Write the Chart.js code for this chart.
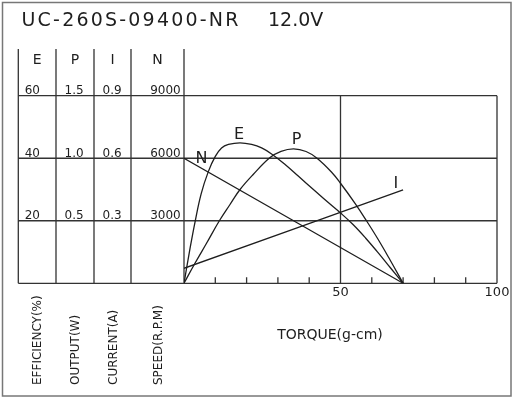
<!DOCTYPE html>
<html><head><meta charset="utf-8">
<script src="https://cdn.jsdelivr.net/npm/chart.js@4.4.0/dist/chart.umd.min.js"></script>
<style>html,body{margin:0;padding:0;background:#fff;}#wrap{width:516px;height:400px;position:relative;}</style>
</head><body><div id="wrap"><canvas id="c" width="516" height="400"></canvas></div>
<script>
// ---- text ----
const modelText = 'UC-260S-09400-NR';
const voltageText = '12.0V';
const headers = ['E', 'P', 'I', 'N'];
const axisNames = ['EFFICIENCY(%)', 'OUTPUT(W)', 'CURRENT(A)', 'SPEED(R.P.M)'];
const xTitle = 'TORQUE(g-cm)';

// ---- data (torque in g-cm) ----
const effTorque = [0, 1.9, 3.6, 5.5, 7.8, 10, 12, 14.2, 17.9, 21.6, 24.8, 28.1, 32.3, 36.5, 41.8, 46, 50, 54, 58, 62, 66, 70];
const efficiency = [0, 11, 20, 28.7, 35.8, 40.6, 43.3, 44.4, 44.9, 44.4, 43.3, 41.3, 38.0, 34.3, 29.6, 25.9, 22.5, 18.8, 14.5, 9.8, 4.9, 0];
const outTorque = [0, 3.5, 7.2, 11.3, 14.7, 17.9, 22.1, 27.5, 31, 35, 39, 42.5, 47.1, 50, 54.7, 58.3, 62, 65.8, 70];
const output = [0, 0.16, 0.32, 0.5, 0.63, 0.75, 0.87, 1.005, 1.055, 1.075, 1.054, 1.0, 0.89, 0.80, 0.637, 0.5, 0.352, 0.188, 0];
const currentTorque = [0, 70];
const current = [0.072, 0.448];
const speedTorque = [0, 70];
const speed = [6000, 0];

// ---- ticks ----
const effTicks = [20, 40, 60];
const effLabels = ['20', '40', '60'];
const outTicks = [0.5, 1.0, 1.5];
const outLabels = ['0.5', '1.0', '1.5'];
const curTicks = [0.3, 0.6, 0.9];
const curLabels = ['0.3', '0.6', '0.9'];
const spdTicks = [3000, 6000, 9000];
const spdLabels = ['3000', '6000', '9000'];
const torqueTicks = [50, 100];
const torqueLabels = ['50', '100'];
const torqueMinor = [10, 20, 30, 40, 60, 70, 80, 90];

const FONT = '"DejaVu Sans", "Liberation Sans", sans-serif';
const INK = '#1e1e1e';

function pts(xs, ys) { return xs.map((x, i) => ({ x: x, y: ys[i] })); }

function yAxis(min, max, ticks, labels, weight, width, pad) {
  return {
    type: 'linear', position: 'left', min: min, max: max, weight: weight,
    grid: { display: false, drawTicks: false }, border: { display: false },
    afterFit: s => { s.width = width; },
    afterBuildTicks: s => { s.ticks = ticks.map(v => ({ value: v })); },
    ticks: {
      autoSkip: false, padding: pad, labelOffset: -4.8, color: INK,
      font: { family: FONT, size: 12 },
      callback: v => { const i = ticks.indexOf(v); return i < 0 ? '' : labels[i]; }
    }
  };
}

const framePlugin = {
  id: 'frame',
  beforeDatasetsDraw(chart) {
    const ctx = chart.ctx, ca = chart.chartArea, sc = chart.scales;
    const axes = [sc.yE, sc.yP, sc.yI, sc.yN];
    const headTop = 49;
    ctx.save();
    ctx.strokeStyle = '#777'; ctx.lineWidth = 1.5;
    ctx.strokeRect(2.5, 2.5, 508.5, 393.5);
    ctx.strokeStyle = '#333'; ctx.lineWidth = 1.3;
    ctx.beginPath();
    [0].concat(effTicks).forEach(v => {
      const y = sc.yE.getPixelForValue(v);
      ctx.moveTo(sc.yE.left, y); ctx.lineTo(ca.right, y);
    });
    axes.forEach(s => { ctx.moveTo(s.left, headTop); ctx.lineTo(s.left, ca.bottom); });
    ctx.moveTo(ca.left, headTop); ctx.lineTo(ca.left, ca.bottom);
    ctx.moveTo(ca.right, ca.top); ctx.lineTo(ca.right, ca.bottom);
    const x50 = sc.x.getPixelForValue(50);
    ctx.moveTo(x50, ca.top); ctx.lineTo(x50, ca.bottom);
    torqueMinor.forEach(v => {
      const x = sc.x.getPixelForValue(v);
      ctx.moveTo(x, ca.bottom); ctx.lineTo(x, ca.bottom - 6);
    });
    ctx.stroke();
    ctx.restore();
  },
  afterDraw(chart) {
    const ctx = chart.ctx, sc = chart.scales;
    const axes = [sc.yE, sc.yP, sc.yI, sc.yN];
    ctx.save();
    ctx.fillStyle = INK;
    ctx.font = '19px ' + FONT;
    ctx.textAlign = 'left'; ctx.textBaseline = 'alphabetic';
    if ('letterSpacing' in ctx) ctx.letterSpacing = '2.2px';
    ctx.fillText(modelText, 21.5, 26);
    if ('letterSpacing' in ctx) ctx.letterSpacing = '0px';
    ctx.fillText(voltageText, 268, 26);
    ctx.font = '14px ' + FONT; ctx.textAlign = 'center';
    axes.forEach((s, i) => ctx.fillText(headers[i], (s.left + s.right) / 2, 63.5));
    ctx.font = '12px ' + FONT;
    axes.forEach((s, i) => {
      ctx.save();
      ctx.translate((s.left + s.right) / 2 + 1, 385);
      ctx.rotate(-Math.PI / 2);
      ctx.textAlign = 'left'; ctx.textBaseline = 'middle';
      ctx.fillText(axisNames[i], 0, 0);
      ctx.restore();
    });
    ctx.font = '14px ' + FONT; ctx.textAlign = 'center'; ctx.textBaseline = 'middle';
    ctx.fillText(xTitle, 330, 335);
    ctx.font = '16px ' + FONT; ctx.textBaseline = 'alphabetic';
    const lab = (t, x, y) => ctx.fillText(t, x, y + 5.8);
    lab('E', sc.x.getPixelForValue(17.6), sc.yE.getPixelForValue(47.9));
    lab('P', sc.x.getPixelForValue(36), sc.yP.getPixelForValue(1.158));
    lab('N', sc.x.getPixelForValue(5.6), sc.yN.getPixelForValue(6058));
    lab('I', sc.x.getPixelForValue(67.7), sc.yI.getPixelForValue(0.485));
    ctx.restore();
  }
};

const line = (data, axis) => ({
  data: data, yAxisID: axis, borderColor: INK, borderWidth: 1.3,
  pointRadius: 0, fill: false, tension: 0.4
});

new Chart(document.getElementById('c'), {
  type: 'line',
  data: {
    datasets: [
      line(pts(effTorque, efficiency), 'yE'),
      line(pts(outTorque, output), 'yP'),
      line(pts(currentTorque, current), 'yI'),
      line(pts(speedTorque, speed), 'yN')
    ]
  },
  options: {
    responsive: false, animation: false,
    layout: { padding: { left: 18.3, right: 19, top: 95.7, bottom: 86.7 } },
    plugins: { legend: { display: false }, tooltip: { enabled: false } },
    scales: {
      x: {
        type: 'linear', min: 0, max: 100,
        grid: { display: false, drawTicks: false }, border: { display: false },
        afterFit: s => { s.height = 30; },
        afterBuildTicks: s => { s.ticks = torqueTicks.map(v => ({ value: v })); },
        ticks: {
          autoSkip: false, maxRotation: 0, padding: 2, color: INK,
          font: { family: FONT, size: 13 },
          callback: v => { const i = torqueTicks.indexOf(v); return i < 0 ? '' : torqueLabels[i]; }
        }
      },
      yE: yAxis(0, 60, effTicks, effLabels, 4, 37.7, 16),
      yP: yAxis(0, 1.5, outTicks, outLabels, 3, 38, 10.4),
      yI: yAxis(0, 0.9, curTicks, curLabels, 2, 37, 9.3),
      yN: yAxis(0, 9000, spdTicks, spdLabels, 1, 53, 3.3)
    }
  },
  plugins: [framePlugin]
});
</script>
</body></html>
